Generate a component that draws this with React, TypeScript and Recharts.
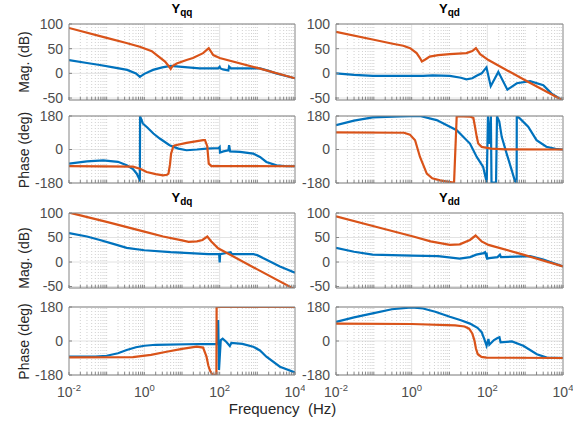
import { LineChart, Line, XAxis, YAxis, CartesianGrid, ReferenceLine } from "recharts";

type Pt = [number, number];

// frequency axis (Hz)
const freqDomain: [number, number] = [0.01, 10000];
const freqLabels = [0.01, 1, 100, 10000];
const decades = [0.01, 0.1, 1, 10, 100, 1000];
const freqTicks = [...decades.flatMap((d) => [1, 2, 3, 4, 5, 6, 7, 8, 9].map((m) => d * m)), 10000];
const majorGrid = [1, 100];
const minorGrid = freqTicks.filter((f) => !freqLabels.includes(f) && !majorGrid.includes(f));

const magTicks = [-50, 0, 50, 100];
const phaseTicks = [-180, 0, 180];

// Yqq
const yqqMagBlue: Pt[] = [[0.01, 27], [0.03, 21], [0.066, 17], [0.15, 12], [0.35, 7], [0.6, 0], [0.76, -7], [1.0, -1], [1.7, 7], [3.0, 12], [5.0, 15], [10, 13], [29.5, 10], [91, 10], [100, 13.5], [105, 10], [123, 8], [170, 6], [178, 14], [200, 10], [1175, 10], [2000, 5], [3162, 0], [10000, -10]];
const yqqMagOrange: Pt[] = [[0.01, 92], [0.1, 72], [0.316, 62], [0.76, 54], [1.58, 45], [2.14, 37], [3.55, 24], [4.3, 16], [5.0, 9], [5.6, 15], [7.24, 20], [13.2, 27], [19.5, 31], [36.3, 41], [51.3, 51], [67.6, 37], [100, 31], [1000, 11], [10000, -10]];
const yqqPhaseBlue: Pt[] = [[0.01, -76], [0.03, -64], [0.081, -58], [0.2, -66], [0.34, -85], [0.5, -105], [0.63, -130], [0.74, -160], [0.76, -172], [0.77, 178], [0.85, 158], [0.91, 140], [1.2, 118], [1.74, 86], [2.57, 59], [4.68, 23], [8, 5], [13.2, -4], [25, 0], [44.7, 5], [95, 8], [100, 13], [102, -16], [126, -10], [170, -5], [178, 23], [190, -10], [347, -13], [776, -22], [1175, -40], [1738, -67], [3236, -85], [6000, -90], [10000, -90]];
const yqqPhaseOrange: Pt[] = [[0.01, -89], [0.5, -92], [0.8, -105], [1.15, -121], [2, -132], [3.16, -139], [4.0, -136], [4.37, -130], [4.8, -80], [5.13, -22], [5.9, 18], [6.3, 22], [13.2, 36], [36.3, 50], [40.7, 50], [46.8, 18], [51.3, -76], [60.3, -89], [10000, -90]];

// Yqd
const yqdMagBlue: Pt[] = [[0.01, 0], [0.03, -3], [0.095, -5], [0.5, -5], [2, -5], [3.6, -4], [10.2, -5], [20, -9], [28, -12], [40, -10], [52, -5], [70.8, 0], [95, 12], [123, -26], [195, 3], [339, -33], [603, -20], [1349, -16], [3020, -24], [5012, -41], [10000, -55]];
const yqdMagOrange: Pt[] = [[0.01, 84], [0.1, 68], [0.316, 60], [0.6, 56], [0.91, 51], [1.35, 41], [1.66, 31], [1.86, 24], [2.29, 28], [3.0, 34], [5, 37], [10.2, 39], [28, 41], [40, 45], [50, 51], [64.6, 39], [107, 27], [1000, -14], [10000, -55]];
const yqdPhaseBlue: Pt[] = [[0.01, 131], [0.03, 155], [0.093, 173], [0.5, 178], [1.66, 180], [4.57, 158], [15.5, 104], [34.7, 32], [52.5, -40], [77.6, -94], [90, -150], [96.4, -178], [104, 178], [110.7, 30], [124, 178], [129, -178], [170, -178], [180, 178], [207, 150], [240, 68], [324, -22], [442, -112], [537, -170], [595, -178], [600, 178], [724, 167], [1202, 122], [1995, 50], [3631, 15], [6310, 3], [10000, 0]];
const yqdPhaseOrange: Pt[] = [[0.01, 92], [0.63, 90], [0.9, 80], [1.23, 50], [1.66, -40], [2.51, -130], [3.5, -155], [5.6, -166], [12.6, -178], [13.2, -179], [15.5, 179], [34.7, 177], [42.7, 170], [47.2, 122], [52.5, 68], [57.5, 32], [70.8, 14], [126, 5], [300, 1], [10000, 0]];

// Ydq
const ydqMagBlue: Pt[] = [[0.01, 59], [0.03, 52], [0.066, 45], [0.15, 37], [0.34, 29], [1, 24], [5, 20], [50, 16], [97, 16], [100, -1], [103, 16], [195, 20], [210, 16], [794, 16], [1000, 14], [1413, 8], [3981, -9], [10000, -22]];
const ydqMagOrange: Pt[] = [[0.01, 101], [0.1, 82], [1, 62], [3.16, 52], [10, 44], [15, 41], [25, 42], [35, 45], [47, 52], [60, 42], [91, 28], [1000, -15], [10000, -56]];
const ydqPhaseBlue: Pt[] = [[0.01, -83], [0.05, -82], [0.1, -78], [0.2, -65], [0.34, -48], [0.6, -33], [1, -25], [2, -20], [29.5, -16], [89, -17], [91, 111], [96, -153], [107, 5], [120, 12], [151, -5], [186, -26], [204, -10], [400, -15], [776, -30], [1175, -50], [1738, -83], [3981, -136], [10000, -167]];
const ydqPhaseOrange: Pt[] = [[0.01, -87], [0.5, -85], [1.5, -73], [3.9, -57], [10, -42], [24.5, -30], [36.3, -35], [44.7, -83], [50, -130], [55, -155], [63, -176], [78, -180], [82, -180], [83, 180], [10000, 180]];

// Ydd
const yddMagBlue: Pt[] = [[0.01, 29], [0.03, 21], [0.093, 15], [1, 13], [5, 12], [18.6, 7], [35, 10], [51, 15], [80, 18], [87, 20], [92, 14], [95, 19], [100, 7], [112, 8], [186, 10], [215, 15], [230, 10], [1349, 12], [3020, 5], [10000, -9]];
const yddMagOrange: Pt[] = [[0.01, 93], [0.1, 73], [1.1, 52], [3.16, 42], [10.2, 35], [18.6, 36], [34.7, 45], [49, 54], [70.8, 42], [107, 35], [891, 15], [10000, -9]];
const yddPhaseBlue: Pt[] = [[0.01, 101], [0.03, 125], [0.093, 146], [0.3, 168], [1, 178], [2, 172], [4.2, 155], [10.2, 128], [20, 110], [34.7, 92], [55, 70], [70.8, 47], [85, 5], [95.5, -25], [100, -10], [107, 11], [113, -20], [150, 5], [186, 16], [209, 20], [224, -7], [447, -2], [891, -25], [2042, -70], [3715, -88], [10000, -90]];
const yddPhaseOrange: Pt[] = [[0.01, 92], [1, 90], [14.1, 83], [25, 77], [33, 65], [40, 40], [45.7, 2], [50, -40], [56, -70], [70, -84], [95, -88], [10000, -90]];

const BLUE = "#0072BD";
const ORANGE = "#D95319";
const AXIS = "#858585";
const TICK_TEXT = "#4d4d4d";
const FONT = "'Liberation Sans', Arial, sans-serif";

const toRows = (pts: Pt[]) => pts.map(([f, v]) => ({ f, v }));

const FreqTick = (props: any) => {
    const { x, y, payload, show } = props;
    if (!show || !freqLabels.includes(payload.value)) return <g />;
    const exp = Math.round(Math.log10(payload.value));
    return (
        <text x={x} y={y + 22} textAnchor="middle" fill={TICK_TEXT} fontSize={14} fontFamily={FONT}>
            10<tspan dy={-6} fontSize={9.5}>{exp}</tspan>
        </text>
    );
};

interface PanelProps {
    x: number; y: number; w: number; h: number;
    domain: [number, number];
    yTicks: number[];
    blue: Pt[];
    orange: Pt[];
    xLabels?: boolean;
}

function Panel({ x, y, w, h, domain, yTicks, blue, orange, xLabels = false }: PanelProps) {
    const padL = 40, padT = 10, padR = 10, padB = xLabels ? 30 : 10;
    const W = w + padL + padR;
    const H = h + padT + padB;
    return (
        <div style={{ position: "absolute", left: x - padL, top: y - padT, width: W, height: H }}>
            <LineChart width={W} height={H} margin={{ top: 9, right: 6, bottom: padB - 4, left: 4 }}>
                <CartesianGrid vertical={false} stroke="#e3e3e3" />
                {minorGrid.map((f) => (
                    <ReferenceLine key={"m" + f} x={f} stroke="#d0d0d0" strokeDasharray="1 2" />
                ))}
                {majorGrid.map((f) => (
                    <ReferenceLine key={"M" + f} x={f} stroke="#e3e3e3" />
                ))}
                <XAxis
                    dataKey="f" type="number" scale="log" domain={freqDomain} allowDataOverflow
                    ticks={freqTicks} interval={0} height={4}
                    tickSize={-3} tickMargin={3}
                    stroke={AXIS}
                    tick={(p: any) => <FreqTick {...p} show={xLabels} />}
                />
                <XAxis
                    xAxisId="top" orientation="top" dataKey="f" type="number" scale="log"
                    domain={freqDomain} allowDataOverflow ticks={freqTicks} interval={0}
                    height={1} tickSize={-3} tick={false} stroke={AXIS}
                />
                <YAxis
                    type="number" domain={domain} allowDataOverflow ticks={yTicks} interval={0}
                    width={36} tickSize={-3} tickMargin={9} stroke={AXIS}
                    tick={{ fill: TICK_TEXT, fontSize: 14, fontFamily: FONT }}
                />
                <YAxis
                    yAxisId="right" orientation="right" type="number" domain={domain}
                    allowDataOverflow ticks={yTicks} interval={0} width={4}
                    tickSize={-3} tick={false} stroke={AXIS}
                />
                <Line data={toRows(blue)} dataKey="v" stroke={BLUE} strokeWidth={2.2} dot={false} isAnimationActive={false} />
                <Line data={toRows(orange)} dataKey="v" stroke={ORANGE} strokeWidth={2.2} dot={false} isAnimationActive={false} />
            </LineChart>
        </div>
    );
}

const COLS = [{ x: 69, w: 226 }, { x: 336, w: 227 }];
const ROWS = [{ y: 24, h: 76 }, { y: 116, h: 67 }, { y: 213, h: 75 }, { y: 307, h: 68 }];

export default function App() {
    const magTop: [number, number] = [-54, 100];
    const magBottom: [number, number] = [-53, 100];
    const phase: [number, number] = [-180, 180];
    return (
        <div style={{ position: "absolute", left: 0, top: 0, width: 588, height: 421, background: "#fff", fontFamily: FONT }}>
            <svg width={588} height={421} style={{ position: "absolute", left: 0, top: 0 }} fontFamily={FONT}>
                {[
                    { cx: 182, by: 12.5, sub: "qq" },
                    { cx: 449.5, by: 12.5, sub: "qd" },
                    { cx: 182, by: 201.5, sub: "dq" },
                    { cx: 449.5, by: 201.5, sub: "dd" },
                ].map((t) => (
                    <text key={t.sub} x={t.cx} y={t.by} textAnchor="middle" fontWeight="bold" fontSize={13} fill="#000">
                        Y<tspan dy={3.5} fontSize={10}>{t.sub}</tspan>
                    </text>
                ))}
                {[
                    { cy: 62, label: "Mag. (dB)" },
                    { cy: 150, label: "Phase (deg)" },
                    { cy: 258, label: "Mag. (dB)" },
                    { cy: 341.5, label: "Phase (deg)" },
                ].map((l, i) => (
                    <text key={i} x={0} y={0} transform={`translate(29,${l.cy}) rotate(-90)`} textAnchor="middle" fontSize={14} fill="#262626">
                        {l.label}
                    </text>
                ))}
                <text x={282.5} y={414} textAnchor="middle" fontSize={15} fill="#262626" style={{ whiteSpace: "pre" }}>
                    Frequency  (Hz)
                </text>
            </svg>
            <Panel x={COLS[0].x} y={ROWS[0].y} w={COLS[0].w} h={ROWS[0].h} domain={magTop} yTicks={magTicks} blue={yqqMagBlue} orange={yqqMagOrange} />
            <Panel x={COLS[1].x} y={ROWS[0].y} w={COLS[1].w} h={ROWS[0].h} domain={magTop} yTicks={magTicks} blue={yqdMagBlue} orange={yqdMagOrange} />
            <Panel x={COLS[0].x} y={ROWS[1].y} w={COLS[0].w} h={ROWS[1].h} domain={phase} yTicks={phaseTicks} blue={yqqPhaseBlue} orange={yqqPhaseOrange} />
            <Panel x={COLS[1].x} y={ROWS[1].y} w={COLS[1].w} h={ROWS[1].h} domain={phase} yTicks={phaseTicks} blue={yqdPhaseBlue} orange={yqdPhaseOrange} />
            <Panel x={COLS[0].x} y={ROWS[2].y} w={COLS[0].w} h={ROWS[2].h} domain={magBottom} yTicks={magTicks} blue={ydqMagBlue} orange={ydqMagOrange} />
            <Panel x={COLS[1].x} y={ROWS[2].y} w={COLS[1].w} h={ROWS[2].h} domain={magBottom} yTicks={magTicks} blue={yddMagBlue} orange={yddMagOrange} />
            <Panel x={COLS[0].x} y={ROWS[3].y} w={COLS[0].w} h={ROWS[3].h} domain={phase} yTicks={phaseTicks} blue={ydqPhaseBlue} orange={ydqPhaseOrange} xLabels />
            <Panel x={COLS[1].x} y={ROWS[3].y} w={COLS[1].w} h={ROWS[3].h} domain={phase} yTicks={phaseTicks} blue={yddPhaseBlue} orange={yddPhaseOrange} xLabels />
        </div>
    );
}
